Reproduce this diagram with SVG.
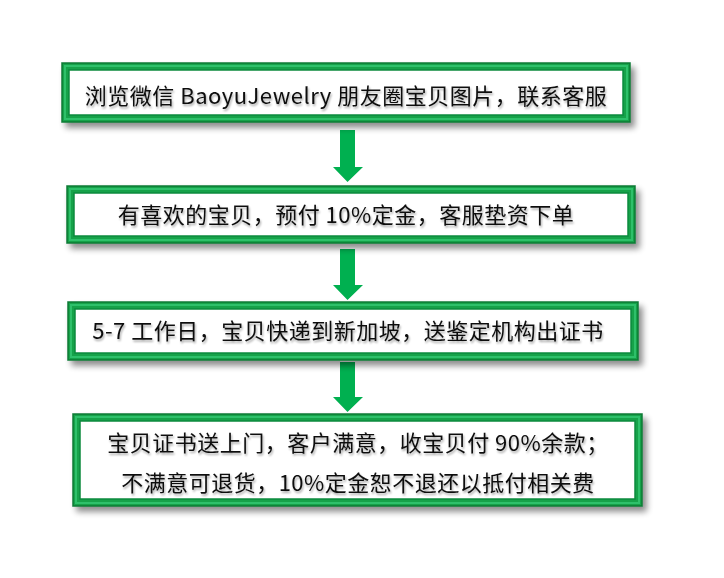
<svg xmlns="http://www.w3.org/2000/svg" width="724" height="578" viewBox="0 0 724 578">
<defs>
<filter id="sh" x="-5%" y="-20%" width="112%" height="150%">
<feGaussianBlur in="SourceAlpha" stdDeviation="3"/>
<feOffset dx="4" dy="5" result="b"/>
<feComponentTransfer><feFuncA type="linear" slope="0.45"/></feComponentTransfer>
<feMerge><feMergeNode/><feMergeNode in="SourceGraphic"/></feMerge>
</filter>
<filter id="tsh" x="-5%" y="-20%" width="110%" height="150%">
<feGaussianBlur in="SourceAlpha" stdDeviation="1"/>
<feOffset dx="1" dy="1.5"/>
<feComponentTransfer><feFuncA type="linear" slope="0.35"/></feComponentTransfer>
<feMerge><feMergeNode/><feMergeNode in="SourceGraphic"/></feMerge>
</filter>
</defs>
<style>
.frame{fill:#14A24A;stroke:#0B7A35;stroke-width:1.5}
.mid{fill:none;stroke:#2FC06A;stroke-width:2}
.inner{fill:#ffffff;stroke:#0E8A3E;stroke-width:1.5}
.t{font-family:"Noto Sans CJK SC","Microsoft YaHei",sans-serif;font-size:22px;letter-spacing:0.5px;fill:#111;text-anchor:middle}
.arr{fill:#00B050}
</style>
<rect width="724" height="578" fill="#ffffff"/>
<g id="connectors">
<polygon class="arr" points="340,130 355,130 355,167 363,167 347.5,182 333,167 340,167"/>
<polygon class="arr" points="340,249 355,249 355,285 363,285 347.5,300 333,285 340,285"/>
<polygon class="arr" points="340,362 355,362 355,397 363,397 347.5,412 333,397 340,397"/>
</g>
<g id="node1" filter="url(#sh)">
<rect class="frame" x="62" y="63" width="568" height="59"/>
<rect class="mid" x="65" y="66" width="562" height="53"/>
<rect class="inner" x="69" y="70" width="554" height="45"/>
<text class="t" x="346" y="104" filter="url(#tsh)">浏览微信 BaoyuJewelry 朋友圈宝贝图片，联系客服</text>
</g>
<g id="node2" filter="url(#sh)">
<rect class="frame" x="67" y="186" width="568" height="57"/>
<rect class="mid" x="70" y="189" width="562" height="51"/>
<rect class="inner" x="74" y="193" width="554" height="43"/>
<text class="t" x="346" y="223" filter="url(#tsh)">有喜欢的宝贝，预付 10%定金，客服垫资下单</text>
</g>
<g id="node3" filter="url(#sh)">
<rect class="frame" x="68" y="302" width="570" height="58"/>
<rect class="mid" x="71" y="305" width="564" height="52"/>
<rect class="inner" x="75" y="309" width="556" height="44"/>
<text class="t" x="348" y="339" filter="url(#tsh)">5-7 工作日，宝贝快递到新加坡，送鉴定机构出证书</text>
</g>
<g id="node4" filter="url(#sh)">
<rect class="frame" x="73" y="414" width="569" height="92"/>
<rect class="mid" x="76" y="417" width="563" height="86"/>
<rect class="inner" x="80" y="421" width="555" height="78"/>
<text class="t" x="358" y="451" filter="url(#tsh)">宝贝证书送上门，客户满意，收宝贝付 90%余款；</text>
<text class="t" x="358" y="491" filter="url(#tsh)">不满意可退货，10%定金恕不退还以抵付相关费</text>
</g>
</svg>
